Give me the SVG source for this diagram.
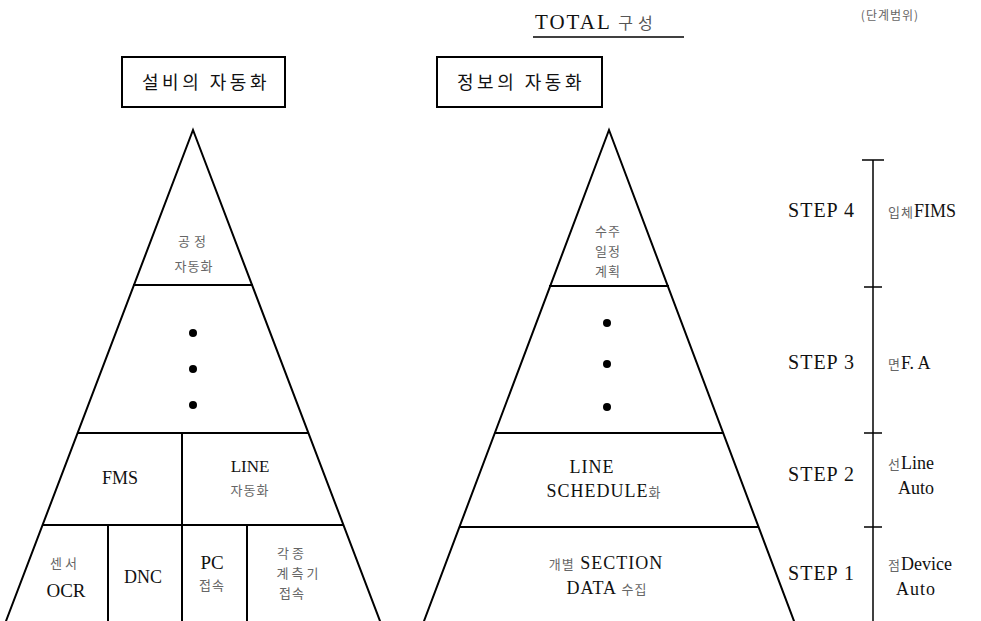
<svg xmlns="http://www.w3.org/2000/svg" width="981" height="621" viewBox="0 0 981 621">
<style>
.ln{stroke:#000;stroke-width:2;fill:none;stroke-linecap:square}
.tk{stroke:#000;stroke-width:1.5;fill:none}
.lat{font-family:"Liberation Serif","Noto Serif CJK KR","Noto Sans CJK KR",serif;fill:#111}
.kr{font-family:"Noto Sans CJK KR","Noto Sans",sans-serif;fill:#666;font-size:13px;letter-spacing:1px}
.box{font-family:"Noto Sans CJK KR",sans-serif;fill:#111;font-size:18px;letter-spacing:3.5px}
.mid{text-anchor:middle}
</style>
<rect width="981" height="621" fill="#fff"/>

<g id="title">
<text x="535" y="29" class="lat" font-size="21" letter-spacing="2">TOTAL <tspan class="kr" style="font-size:16px;letter-spacing:5px;fill:#555">구성</tspan></text>
<line x1="533" y1="37" x2="684" y2="37" class="tk"/>
</g>

<g id="box-facility">
<rect x="122" y="57" width="163" height="50" class="ln"/>
<text x="206" y="89" class="box mid">설비의 자동화</text>
</g>
<g id="box-info">
<rect x="437" y="57" width="165" height="50" class="ln"/>
<text x="521" y="89" class="box mid">정보의 자동화</text>
</g>

<g id="pyramid-left">
<polyline points="6,621 193,130 380,621" class="ln"/>
<line x1="134" y1="285" x2="252" y2="285" class="ln"/>
<line x1="78" y1="433" x2="308" y2="433" class="ln"/>
<line x1="43" y1="525" x2="343" y2="525" class="ln"/>
<line x1="182" y1="433" x2="182" y2="621" class="ln"/>
<line x1="108" y1="525" x2="108" y2="621" class="ln"/>
<line x1="247" y1="525" x2="247" y2="621" class="ln"/>
<g id="L-top">
<text x="194" y="246" class="kr mid" style="letter-spacing:4px">공정</text>
<text x="194" y="271" class="kr mid">자동화</text>
</g>
<g id="L-dots" fill="#000">
<circle cx="193" cy="333" r="4"/>
<circle cx="193" cy="369" r="4"/>
<circle cx="193" cy="405" r="4"/>
</g>
<g id="L-fms"><text x="120" y="484" class="lat mid" font-size="18">FMS</text></g>
<g id="L-line">
<text x="250" y="472" class="lat mid" font-size="17">LINE</text>
<text x="250" y="495" class="kr mid">자동화</text>
</g>
<g id="L-ocr">
<text x="65" y="568" class="kr mid" style="letter-spacing:3px">센서</text>
<text x="66" y="597" class="lat mid" font-size="19">OCR</text>
</g>
<g id="L-dnc"><text x="143" y="583" class="lat mid" font-size="18">DNC</text></g>
<g id="L-pc">
<text x="212" y="569" class="lat mid" font-size="19">PC</text>
<text x="212" y="590" class="kr mid">접속</text>
</g>
<g id="L-meter">
<text x="292" y="558" class="kr mid" style="letter-spacing:3px">각종</text>
<text x="299" y="578" class="kr mid" style="letter-spacing:3px">계측기</text>
<text x="292" y="598" class="kr mid">접속</text>
</g>
</g>

<g id="pyramid-right">
<polyline points="424,621 609,130 794,621" class="ln"/>
<line x1="550" y1="286" x2="668" y2="286" class="ln"/>
<line x1="495" y1="433" x2="723" y2="433" class="ln"/>
<line x1="460" y1="527" x2="758" y2="527" class="ln"/>
<g id="R-top">
<text x="608" y="236" class="kr mid">수주</text>
<text x="608" y="256" class="kr mid">일정</text>
<text x="608" y="276" class="kr mid">계획</text>
</g>
<g id="R-dots" fill="#000">
<circle cx="607" cy="323" r="4"/>
<circle cx="607" cy="364" r="4"/>
<circle cx="607" cy="407" r="4"/>
</g>
<g id="R-schedule">
<text x="592" y="473" class="lat mid" font-size="18" letter-spacing="1">LINE</text>
<text x="604" y="497" class="lat mid" font-size="18" letter-spacing="1">SCHEDULE<tspan class="kr">화</tspan></text>
</g>
<g id="R-data">
<text x="606" y="569" class="lat mid" font-size="18" letter-spacing="1"><tspan class="kr">개별</tspan> SECTION</text>
<text x="607" y="594" class="lat mid" font-size="18" letter-spacing="1">DATA <tspan class="kr">수집</tspan></text>
</g>
</g>

<g id="scale">
<text x="890" y="20" class="kr mid" style="font-size:12px">(단계범위)</text>
<line x1="873" y1="160" x2="873" y2="621" class="tk"/>
<line x1="862" y1="160" x2="884" y2="160" class="tk"/>
<line x1="864" y1="287" x2="882" y2="287" class="tk"/>
<line x1="864" y1="433" x2="882" y2="433" class="tk"/>
<line x1="864" y1="527" x2="882" y2="527" class="tk"/>
</g>
<g id="step4">
<text x="855" y="217" class="lat" font-size="20" text-anchor="end" letter-spacing="1">STEP 4</text>
<text x="888" y="217" class="lat" font-size="18"><tspan class="kr">입체</tspan>FIMS</text>
</g>
<g id="step3">
<text x="855" y="369" class="lat" font-size="20" text-anchor="end" letter-spacing="1">STEP 3</text>
<text x="888" y="369" class="lat" font-size="18"><tspan class="kr">면</tspan>F. A</text>
</g>
<g id="step2">
<text x="855" y="481" class="lat" font-size="20" text-anchor="end" letter-spacing="1">STEP 2</text>
<text x="888" y="469" class="lat" font-size="18"><tspan class="kr">선</tspan>Line</text>
<text x="916" y="494" class="lat mid" font-size="18">Auto</text>
</g>
<g id="step1">
<text x="855" y="580" class="lat" font-size="20" text-anchor="end" letter-spacing="1">STEP 1</text>
<text x="888" y="570" class="lat" font-size="18"><tspan class="kr">점</tspan>Device</text>
<text x="916" y="595" class="lat mid" font-size="18" letter-spacing="1">Auto</text>
</g>
</svg>
